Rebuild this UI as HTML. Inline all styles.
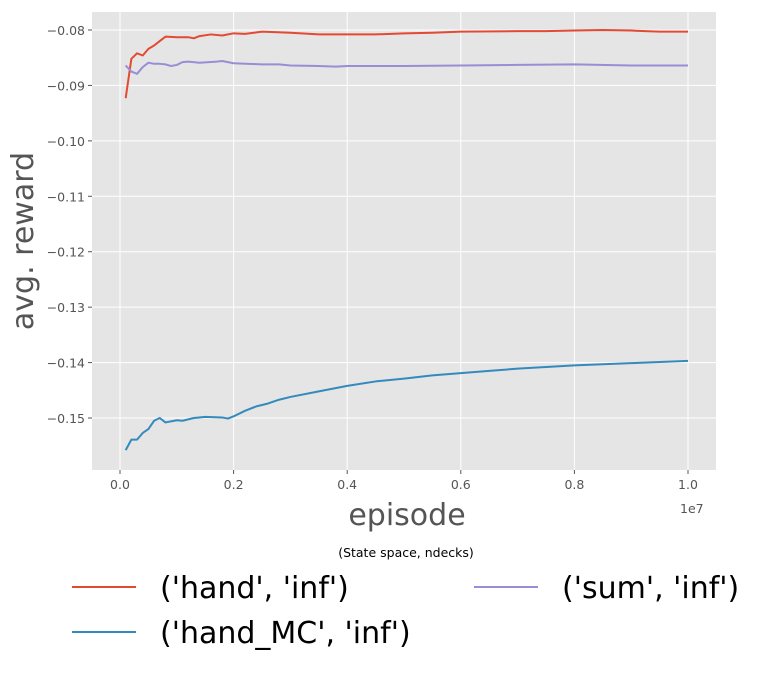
<!DOCTYPE html>
<html><head><meta charset="utf-8"><style>
body{margin:0;background:#fff;width:762px;height:671px;overflow:hidden;font-family:"DejaVu Sans","Liberation Sans",sans-serif}
</style></head><body>
<svg id="c" width="762" height="671" xmlns="http://www.w3.org/2000/svg" font-family="DejaVu Sans, Liberation Sans, sans-serif"></svg>
<script>
const redX=[0.01,0.02,0.03,0.04,0.05,0.06,0.07,0.08,0.1,0.12,0.13,0.14,0.16,0.18,0.2,0.22,0.25,0.3,0.35,0.4,0.45,0.5,0.55,0.6,0.7,0.75,0.8,0.85,0.9,0.95,1.0];
const redY=[-0.0923,-0.0852,-0.0842,-0.0846,-0.0834,-0.0828,-0.082,-0.0812,-0.0813,-0.0813,-0.0815,-0.0811,-0.0808,-0.0810,-0.0806,-0.0807,-0.0803,-0.0805,-0.0808,-0.0808,-0.0808,-0.0806,-0.0805,-0.0803,-0.0802,-0.0802,-0.0801,-0.0800,-0.0801,-0.0803,-0.0803];
const purX=[0.01,0.02,0.03,0.04,0.05,0.06,0.07,0.08,0.09,0.1,0.11,0.12,0.14,0.17,0.18,0.2,0.25,0.28,0.3,0.35,0.38,0.4,0.5,0.6,0.7,0.8,0.9,1.0];
const purY=[-0.0864,-0.0875,-0.0879,-0.0867,-0.0859,-0.0861,-0.0861,-0.0862,-0.0865,-0.0863,-0.0858,-0.0857,-0.0859,-0.0857,-0.0856,-0.0860,-0.0862,-0.0862,-0.0864,-0.0865,-0.0866,-0.0865,-0.0865,-0.0864,-0.0863,-0.0862,-0.0864,-0.0864];
const bluX=[0.01,0.02,0.03,0.04,0.05,0.06,0.07,0.08,0.1,0.11,0.13,0.15,0.18,0.19,0.2,0.22,0.24,0.26,0.28,0.3,0.35,0.4,0.45,0.5,0.55,0.6,0.65,0.7,0.75,0.8,0.85,0.9,0.95,1.0];
const bluY=[-0.1558,-0.1539,-0.1539,-0.1527,-0.1520,-0.1505,-0.1500,-0.1508,-0.1504,-0.1505,-0.1500,-0.1498,-0.1499,-0.1501,-0.1497,-0.1487,-0.1479,-0.1474,-0.1467,-0.1462,-0.1452,-0.1442,-0.1434,-0.1429,-0.1423,-0.1419,-0.1415,-0.1411,-0.1408,-0.1405,-0.1403,-0.1401,-0.1399,-0.1397];
const xTicks=[0,0.2,0.4,0.6,0.8,1.0];
const xTickLabels=["0.0","0.2","0.4","0.6","0.8","1.0"];
const yTicks=[-0.08,-0.09,-0.10,-0.11,-0.12,-0.13,-0.14,-0.15];
const yTickLabels=["−0.08","−0.09","−0.10","−0.11","−0.12","−0.13","−0.14","−0.15"];
const L=92,R=716,T=12,B=470;
const sx=v=>120+v*568;
const sy=v=>30+(-0.08-v)/0.01*55.43;
const NS="http://www.w3.org/2000/svg";
const svg=document.getElementById('c');
function mk(t,a,p){const e=document.createElementNS(NS,t);for(const k in a)e.setAttribute(k,a[k]);(p||svg).appendChild(e);return e;}
const bg=mk('rect',{x:L,y:T,width:R-L,height:B-T,fill:'#e5e5e5'});


xTicks.forEach((v,i)=>{
 const g=mk('line',{x1:sx(v),x2:sx(v),y1:T,y2:B,stroke:'#fff','stroke-width':1});
 
 
 mk('line',{x1:sx(v),x2:sx(v),y1:B,y2:B+4,stroke:'#555'});
 const t=mk('text',{x:sx(v),y:B+19,'text-anchor':'middle','font-size':12.5,fill:'#555'});t.textContent=xTickLabels[i];
 
 
});
yTicks.forEach((v,i)=>{
 const g=mk('line',{x1:L,x2:R,y1:sy(v),y2:sy(v),stroke:'#fff','stroke-width':1});
 
 
 mk('line',{x1:L-4,x2:L,y1:sy(v),y2:sy(v),stroke:'#555'});
 const t=mk('text',{x:L-7,y:sy(v)+5,'text-anchor':'end','font-size':12.5,fill:'#555'});t.textContent=yTickLabels[i];
 
 
});
function series(xs,ys,col,name){
 const p=mk('polyline',{points:xs.map((x,i)=>sx(x)+','+sy(ys[i])).join(' '),fill:'none',stroke:col,'stroke-width':2,'stroke-linejoin':'round'});
 
 
}
series(redX,redY,'#e24a33','series-hand-inf');
series(purX,purY,'#988ed5','series-sum-inf');
series(bluX,bluY,'#348abd','series-hand-mc-inf');
function txt(s,a,name){const t=mk('text',a);t.textContent=s;return t;}
txt('1e7',{x:680,y:513,'font-size':12.5,fill:'#555'},'x-offset-label');
txt('episode',{x:407,y:525,'text-anchor':'middle','font-size':30,fill:'#555'},'x-axis-title');
txt('avg. reward',{x:0,y:0,'text-anchor':'middle','font-size':30,fill:'#555',transform:'translate(33,241) rotate(-90)'},'y-axis-title');
txt('(State space, ndecks)',{x:406,y:557,'text-anchor':'middle','font-size':12.5,fill:'#000'},'legend-title');
function leg(x,y,col,label,name){
 const l=mk('line',{x1:x,x2:x+64,y1:y,y2:y,stroke:col,'stroke-width':2});
 
 
 txt(label,{x:x+88,y:y+11,'font-size':30,fill:'#000'},name+'-label');
}
leg(72,587,'#e24a33',"('hand', 'inf')",'legend-hand-inf');
leg(474,587,'#988ed5',"('sum', 'inf')",'legend-sum-inf');
leg(72,632,'#348abd',"('hand_MC', 'inf')",'legend-hand-mc-inf');
</script>
</body></html>
